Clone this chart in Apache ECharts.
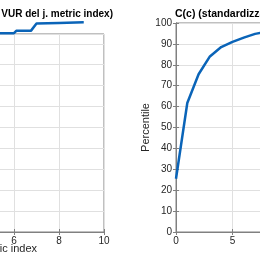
<!DOCTYPE html>
<html><head><meta charset="utf-8">
<script src="https://cdn.jsdelivr.net/npm/echarts@6/dist/echarts.min.js"></script>
<style>html,body{margin:0;padding:0;background:#fff;overflow:hidden;width:260px;height:260px;position:relative}
#c{position:absolute;left:-130px;top:0;width:600px;height:260px}</style>
</head><body><div id="c"></div>
<script>
// Left panel data
var leftX = [0, 1, 2, 3, 4, 5, 6, 6.1, 6.75, 7.0, 8, 9.1];
var leftY = [55, 76, 86, 90.5, 93, 95.1, 95.1, 96.2, 96.2, 99.7, 100, 100.3];
// Right panel data
var rightX = [0,1,2,3,4,5,6,7,8,9,10,11,12,13,14,15,16,17,18,19,20];
var rightY = [25.5,61.7,75.5,84,88.5,91,93,94.8,95.8,96.5,97,97.5,98,98.4,98.7,99,99.3,99.5,99.7,99.9,100];

var TITLE = 'C(c) (standardizzata per VUR del j. metric index)';
var XNAME = 'j. metric index';
var YNAME = 'Percentile';

var FONT = 'Liberation Sans';
var TXT = '#262626';
var AX = '#808080';
var GRIDC = '#e0e0e0';
var BLUE = '#0a64b8';

function pairs(xs, ys){ return xs.map(function(x,i){return [x, ys[i]];}); }

var tick = {show:true, inside:true, length:3, lineStyle:{color:AX}};
var chart = echarts.init(document.getElementById('c'), null, {renderer:'canvas'});
chart.setOption({
  animation:false,
  graphic:[
    {type:'text', x:243, y:9, style:{text:TITLE, font:'bold 10px "Liberation Sans"', fill:'#000', align:'right'}},
    {type:'text', x:305, y:9, style:{text:TITLE, font:'bold 10.5px "Liberation Sans"', fill:'#000', align:'left'}},
    {type:'text', x:167, y:243, style:{text:XNAME, font:'11px "Liberation Sans"', fill:TXT, align:'right'}}
  ],
  grid:[
    {left:9, right:366, top:34, bottom:28, show:true, borderColor:AX, borderWidth:1, containLabel:false, outerBoundsMode:'none'},
    {left:306, right:68, top:23, bottom:28, show:true, borderColor:AX, borderWidth:1, containLabel:false, outerBoundsMode:'none'}
  ],
  xAxis:[
    {gridIndex:0, type:'value', min:0, max:10, interval:2, position:'bottom',
     axisLine:{lineStyle:{color:AX}}, axisTick:tick,
     axisLabel:{fontFamily:FONT, fontSize:10, color:TXT, margin:4},
     splitLine:{show:true, lineStyle:{color:GRIDC}}},
    {gridIndex:0, type:'value', min:0, max:10, interval:2, position:'top',
     axisLine:{show:true, lineStyle:{color:AX}}, axisTick:tick,
     axisLabel:{show:false}, splitLine:{show:false}},
    {gridIndex:1, type:'value', min:0, max:20, interval:5, position:'bottom',
     axisLine:{lineStyle:{color:AX}}, axisTick:tick,
     axisLabel:{fontFamily:FONT, fontSize:10, color:TXT, margin:4},
     splitLine:{show:true, lineStyle:{color:GRIDC}}},
    {gridIndex:1, type:'value', min:0, max:20, interval:5, position:'top',
     axisLine:{show:true, lineStyle:{color:AX}}, axisTick:tick,
     axisLabel:{show:false}, splitLine:{show:false}}
  ],
  yAxis:[
    {gridIndex:0, type:'value', min:0, max:94.7, interval:10, position:'left',
     name:YNAME, nameLocation:'middle', nameGap:24, nameRotate:90,
     nameTextStyle:{fontFamily:FONT, fontSize:11, color:TXT},
     axisLine:{show:true, lineStyle:{color:AX}}, axisTick:tick,
     axisLabel:{fontFamily:FONT, fontSize:10, color:TXT, margin:4},
     splitLine:{show:true, lineStyle:{color:GRIDC}}},
    {gridIndex:0, type:'value', min:0, max:94.7, interval:10, position:'right',
     axisLine:{show:true, lineStyle:{color:AX}}, axisTick:tick,
     axisLabel:{show:false}, splitLine:{show:false}},
    {gridIndex:1, type:'value', min:0, max:100, interval:10, position:'left',
     name:YNAME, nameLocation:'middle', nameGap:23, nameRotate:90,
     nameTextStyle:{fontFamily:FONT, fontSize:11, color:TXT},
     axisLine:{show:true, lineStyle:{color:AX}}, axisTick:tick,
     axisLabel:{fontFamily:FONT, fontSize:10, color:TXT, margin:4},
     splitLine:{show:true, lineStyle:{color:GRIDC}}},
    {gridIndex:1, type:'value', min:0, max:100, interval:10, position:'right',
     axisLine:{show:true, lineStyle:{color:AX}}, axisTick:tick,
     axisLabel:{show:false}, splitLine:{show:false}}
  ],
  series:[
    {type:'line', xAxisIndex:0, yAxisIndex:0, data:pairs(leftX,leftY), showSymbol:false, clip:false,
     lineStyle:{color:BLUE, width:2.5}},
    {type:'line', xAxisIndex:2, yAxisIndex:2, data:pairs(rightX,rightY), showSymbol:false, clip:false,
     lineStyle:{color:BLUE, width:2.5}}
  ]
});
</script></body></html>
